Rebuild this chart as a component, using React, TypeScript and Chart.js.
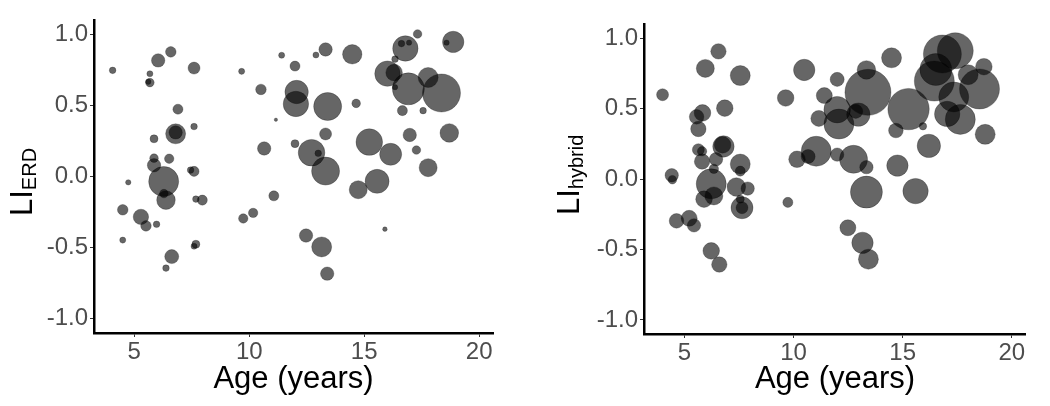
import React, { useEffect, useRef } from 'react';
import { Chart, registerables } from 'chart.js';

Chart.register(...registerables);

// ---- Panel 1: LI_ERD vs age ----
const ageErd = [
  4.06, 6.04, 6.59, 5.68, 5.68, 5.61, 7.6, 6.9, 7.6, 6.8,
  6.8, 5.86, 5.86, 5.86, 6.52, 6.28, 6.29, 6.38, 7.45, 7.6,
  4.74, 7.68, 7.96, 4.5, 5.29, 5.51, 5.97, 4.5, 6.63, 6.38,
  7.68, 7.6, 9.67, 10.51, 9.74, 10.17, 10.65, 11.07, 11.16, 11.41,
  11.99, 12.06, 12.03, 11.99, 12.9, 13.32, 13.41, 13.32, 12.71, 13.0,
  13.32, 12.47, 13.15, 13.39, 14.48, 14.65, 14.74, 15.22, 15.56, 16.15,
  15.9, 16.01, 16.3, 16.34, 16.34, 16.66, 16.79, 16.62, 16.95, 17.32,
  16.92, 16.98, 17.27, 17.56, 17.78, 17.78, 18.36, 18.7, 18.87, 18.58,
];
const liErd = [
  0.746, 0.816, 0.876, 0.722, 0.66, 0.666, 0.762, 0.473, 0.351, 0.3,
  0.31, 0.265, 0.129, 0.079, 0.125, -0.035, -0.12, -0.166, 0.045, 0.036,
  -0.041, -0.159, -0.166, -0.234, -0.284, -0.347, -0.336, -0.447, -0.563, -0.644,
  -0.476, -0.49, 0.739, 0.612, -0.295, -0.256, 0.197, -0.136, 0.399, 0.852,
  0.776, 0.594, 0.51, 0.231, 0.854, 0.893, 0.492, 0.299, 0.167, 0.163,
  0.038, -0.415, -0.495, -0.683, 0.859, 0.514, -0.093, 0.242, -0.034, 0.156,
  -0.37, 0.723, 0.73, 0.825, 0.628, 0.463, 0.9, 0.934, 0.941, 1.002,
  0.616, 0.292, 0.186, 0.463, 0.696, 0.062, 0.587, 0.306, 0.946, 0.941,
];
const weightErd = [
  2.7, 11.2, 7, 2.3, 4.6, 1.8, 9, 6.3, 2.7, 25,
  11.2, 4, 4.6, 11.2, 5.5, 56.3, 4.6, 21.6, 2.7, 6.3,
  1.8, 2.7, 6.3, 7, 14.8, 7, 2.7, 2.3, 12.3, 2.7,
  4, 2.3, 2.3, 7, 5.5, 5.5, 11.2, 6.3, 0.7, 2.3,
  6.3, 34.2, 40.3, 4, 2.3, 11.2, 49, 9, 44.2, 2.7,
  49, 11.2, 25, 11.2, 23.5, 4.6, 20.3, 44.2, 36, 30.3,
  1.3, 40.3, 17.2, 2.7, 1.8, 6.3, 40.3, 2.7, 1.8, 4.6,
  64, 11.2, 4.6, 2.7, 25, 20.3, 90.3, 21.6, 28.6, 1.8,
];

// ---- Panel 2: LI_hybrid vs age ----
const ageHybrid = [
  4.0, 6.56, 5.96, 7.56, 6.85, 5.83, 5.56, 5.64, 5.64, 5.81,
  5.81, 6.79, 6.75, 6.45, 6.35, 7.56, 7.56, 4.42, 4.45, 6.23,
  5.9, 6.35, 7.38, 7.9, 7.56, 7.64, 7.64, 4.64, 5.22, 5.44,
  6.23, 6.6, 9.74, 9.64, 10.49, 10.16, 10.67, 11.04, 11.16, 11.41,
  12.0, 12.0, 12.08, 12.0, 12.75, 12.97, 12.85, 13.34, 13.41, 13.34,
  13.34, 12.49, 13.16, 13.43, 14.49, 14.69, 14.76, 15.27, 15.59, 15.93,
  16.2, 16.82, 17.41, 16.45, 16.52, 18.52, 18.72, 17.34, 17.04, 17.64,
  18.0, 18.78,
];
const liHybrid = [
  0.598, 0.906, 0.785, 0.734, 0.503, 0.469, 0.441, 0.355, 0.208, 0.197,
  0.124, 0.231, 0.242, 0.14, 0.072, 0.106, 0.056, 0.027, -0.005, -0.034,
  -0.143, -0.12, -0.057, -0.068, -0.143, -0.204, -0.204, -0.297, -0.279, -0.329,
  -0.51, -0.607, -0.166, 0.575, 0.774, 0.14, 0.16, 0.197, 0.43, 0.592,
  0.707, 0.492, 0.39, 0.173, 0.14, 0.457, 0.48, 0.774, 0.615, 0.084,
  -0.093, -0.346, -0.453, -0.569, 0.86, 0.344, 0.095, 0.496, -0.086, 0.374,
  0.235, 0.887, 0.91, 0.695, 0.777, 0.639, 0.797, 0.582, 0.462, 0.423,
  0.74, 0.317,
];
const weightHybrid = [
  9, 14.8, 20.3, 25, 17.2, 17.2, 13.3, 14.8, 9, 5.5,
  14.8, 28.6, 17.2, 11.2, 5.5, 25, 6.3, 11.2, 4.6, 56.3,
  17.2, 20.3, 21.6, 11.2, 4, 30.3, 9, 13.3, 16, 11.2,
  17.2, 14.8, 6.3, 17.2, 28.6, 17.2, 12.3, 56.3, 16, 16,
  12.3, 44.2, 56.3, 11.2, 49, 34.2, 12.3, 21.6, 132.3, 11.2,
  64, 16, 28.6, 25, 25, 13.3, 28.6, 107.1, 40.3, 3.4,
  34.2, 90.3, 81, 100, 64, 100, 17.2, 56.3, 40.3, 56.3,
  25, 25,
];

const xTickValues = [5, 10, 15, 20];
const yTickValues = [-1, -0.5, 0, 0.5, 1];
const yTickLabels = ['-1.0', '-0.5', '0.0', '0.5', '1.0'];
const xAxisTitle = 'Age (years)';
const yTitleMain = 'LI';
const yTitleSubs = ['ERD', 'hybrid'];

const FAMILY = '"Liberation Sans", Arial, Helvetica, sans-serif';
const radiusOf = (w: number) => Math.sqrt(w) * 2;

const yTitlePlugin = {
  id: 'yTitleSub',
  afterDraw(chart: any, _args: any, opts: any) {
    const ctx = chart.ctx;
    ctx.save();
    ctx.fillStyle = '#000';
    ctx.textBaseline = 'alphabetic';
    ctx.textAlign = 'left';
    ctx.translate(opts.x, opts.y);
    ctx.rotate(-Math.PI / 2);
    ctx.font = `31px ${FAMILY}`;
    ctx.fillText(opts.main, 0, 0);
    const w = ctx.measureText(opts.main).width;
    ctx.font = `20px ${FAMILY}`;
    ctx.fillText(opts.sub, w, opts.shift);
    ctx.restore();
  },
};

type PanelProps = {
  ages: number[];
  values: number[];
  weights: number[];
  sub: string;
  left: number;
  xMin: number;
  xMax: number;
  yAxisWidth: number;
  xAxisHeight: number;
  padRight: number;
  titleX: number;
  titleY: number;
};

function Panel(p: PanelProps) {
  const ref = useRef<HTMLCanvasElement | null>(null);
  useEffect(() => {
    if (!ref.current) return;
    const zeroPad = (s: any) => {
      s.paddingLeft = 0;
      s.paddingRight = 0;
      s.paddingTop = 0;
      s.paddingBottom = 0;
    };
    const chart = new Chart(ref.current, {
      type: 'bubble',
      data: {
        datasets: [
          {
            data: p.ages.map((a, i) => ({ x: a, y: p.values[i], r: radiusOf(p.weights[i]) })),
            backgroundColor: 'rgba(0,0,0,0.6)',
            borderColor: 'rgba(0,0,0,0.25)',
            borderWidth: 1,
            clip: false,
          } as any,
        ],
      },
      options: {
        responsive: false,
        animation: false,
        devicePixelRatio: 1,
        events: [],
        layout: { padding: { left: 0, right: p.padRight, top: 11, bottom: 0 } },
        plugins: {
          legend: { display: false },
          tooltip: { enabled: false },
          yTitleSub: { x: p.titleX, y: p.titleY, main: yTitleMain, sub: p.sub, shift: 3.8 },
        } as any,
        scales: {
          x: {
            type: 'linear',
            min: p.xMin,
            max: p.xMax,
            afterBuildTicks: (s: any) => {
              s.ticks = xTickValues.map((v) => ({ value: v }));
            },
            afterFit: (s: any) => {
              s.height = p.xAxisHeight;
              zeroPad(s);
            },
            grid: {
              display: true,
              drawOnChartArea: false,
              drawTicks: true,
              tickLength: 4,
              tickColor: '#333333',
              tickWidth: 1,
            },
            border: { display: true, color: '#000000', width: 2.5 },
            ticks: {
              font: { family: FAMILY, size: 24 },
              color: '#4d4d4d',
              padding: 1,
              maxRotation: 0,
              autoSkip: false,
              callback: (v: any) => String(v),
            },
            title: {
              display: true,
              text: xAxisTitle,
              font: { family: FAMILY, size: 31 },
              color: '#000000',
              padding: { top: 0, bottom: 8 },
            },
          },
          y: {
            type: 'linear',
            min: -1.1,
            max: 1.1,
            afterBuildTicks: (s: any) => {
              s.ticks = yTickValues.map((v) => ({ value: v }));
            },
            afterFit: (s: any) => {
              s.width = p.yAxisWidth;
              zeroPad(s);
            },
            grid: {
              display: true,
              drawOnChartArea: false,
              drawTicks: true,
              tickLength: 4,
              tickColor: '#333333',
              tickWidth: 1,
            },
            border: { display: true, color: '#000000', width: 2.5 },
            ticks: {
              font: { family: FAMILY, size: 24 },
              color: '#4d4d4d',
              padding: 2,
              autoSkip: false,
              callback: (v: any) => {
                const idx = yTickValues.indexOf(Number(v));
                return idx >= 0 ? yTickLabels[idx] : '';
              },
            },
            title: { display: false },
          },
        },
      } as any,
      plugins: [yTitlePlugin as any],
    });
    return () => chart.destroy();
  }, []);
  return (
    <canvas
      ref={ref}
      width={525}
      height={406}
      style={{ position: 'absolute', left: p.left, top: 0, width: 525, height: 406 }}
    />
  );
}

export default function App() {
  return (
    <div
      style={{
        position: 'fixed',
        left: 0,
        top: 0,
        width: 1050,
        height: 406,
        background: '#ffffff',
        overflow: 'hidden',
      }}
    >
      <Panel
        ages={ageErd}
        values={liErd}
        weights={weightErd}
        sub={yTitleSubs[0]}
        left={0}
        xMin={3.25}
        xMax={20.6}
        yAxisWidth={94}
        xAxisHeight={73}
        padRight={32}
        titleX={32.2}
        titleY={216}
      />
      <Panel
        ages={ageHybrid}
        values={liHybrid}
        weights={weightHybrid}
        sub={yTitleSubs[1]}
        left={525}
        xMin={3.15}
        xMax={20.65}
        yAxisWidth={119}
        xAxisHeight={72}
        padRight={12}
        titleX={53.9}
        titleY={215}
      />
    </div>
  );
}
